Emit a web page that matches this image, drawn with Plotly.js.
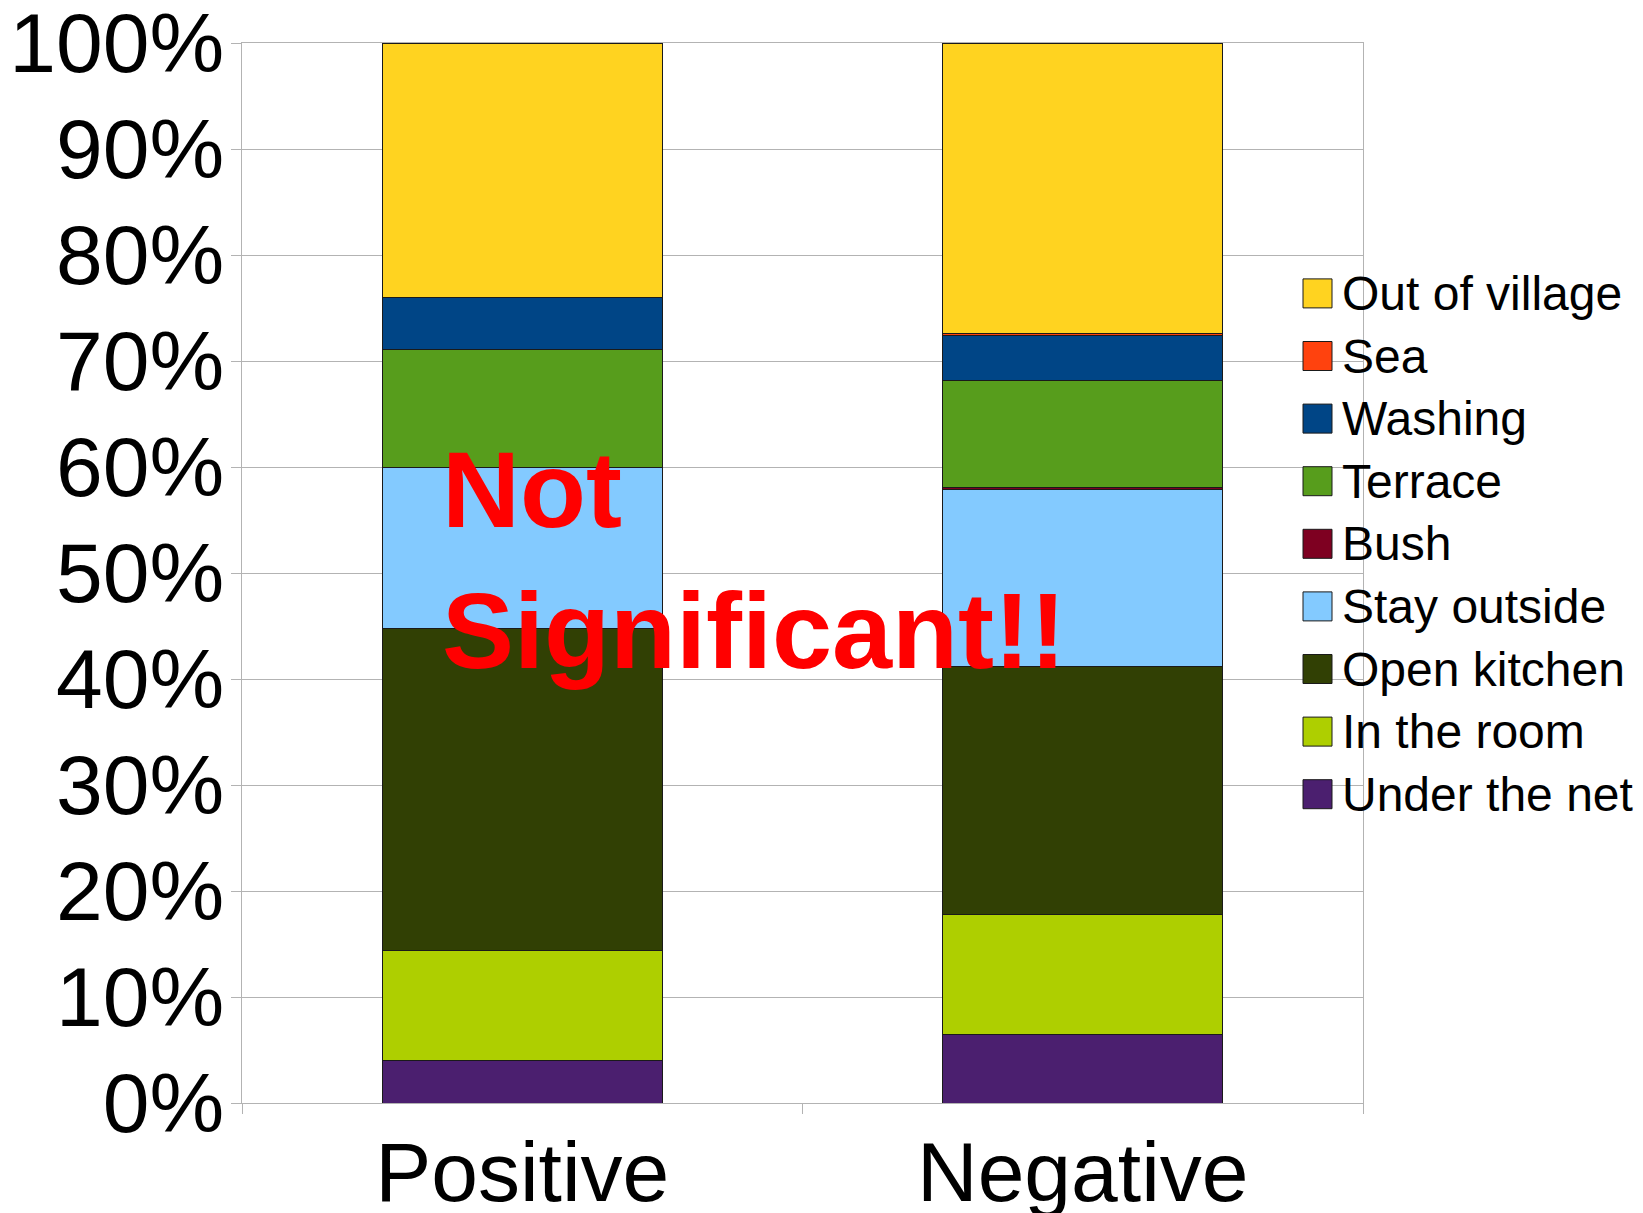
<!DOCTYPE html>
<html><head><meta charset="utf-8">
<script src="https://cdn.plot.ly/plotly-3.0.1.min.js"></script>
<style>html,body{margin:0;padding:0;background:#fff}</style>
</head><body>
<div id="chart" style="width:1643px;height:1213px"></div>
<script>
// ---- data (percent of each group) ----
const categories = ['Positive', 'Negative'];
const seriesNames = ['Under the net', 'In the room', 'Open kitchen', 'Stay outside', 'Bush', 'Terrace', 'Washing', 'Sea', 'Out of village'];
const underTheNet  = [4.0, 6.5];
const inTheRoom    = [10.4, 11.3];
const openKitchen  = [30.4, 23.4];
const stayOutside  = [15.2, 16.7];
const bush         = [0.0, 0.2];
const terrace      = [11.1, 10.1];
const washing      = [4.9, 4.2];
const sea          = [0.0, 0.2];
const outOfVillage = [24.0, 27.4];
const yTickValues  = [0, 10, 20, 30, 40, 50, 60, 70, 80, 90, 100];
const noteLines    = ['Not', 'Significant!!'];

const seriesValues = [underTheNet, inTheRoom, openKitchen, stayOutside, bush, terrace, washing, sea, outOfVillage];
const seriesColors = ['#4b1f6f', '#aecf00', '#314004', '#83caff', '#7e0021', '#579d1c', '#004586', '#ff420e', '#ffd320'];

const FONT = 'Liberation Sans, Arial, Helvetica, sans-serif';
const OUTLINE = '#1a1a1a';

const traces = seriesNames.map((name, i) => ({
  type: 'bar',
  name: name,
  x: categories,
  y: seriesValues[i],
  marker: { color: seriesColors[i], line: { color: OUTLINE, width: 1 } },
  showlegend: false,
  hoverinfo: 'name+y'
}));

// ---- custom legend (big square keys), top item = last series ----
const plotTop = 43, plotBottom = 1103;
const legendFirstCenter = 293.4, legendStep = 62.6;
const legendShapes = [];
const legendLabels = [];
seriesNames.slice().reverse().forEach((name, k) => {
  const idx = seriesNames.length - 1 - k;
  const yc = (plotBottom - (legendFirstCenter + k * legendStep)) / (plotBottom - plotTop);
  legendShapes.push({
    type: 'rect', xref: 'paper', yref: 'paper',
    xsizemode: 'pixel', xanchor: 1, x0: -60, x1: -31,
    ysizemode: 'pixel', yanchor: yc, y0: -14.5, y1: 14.5,
    fillcolor: seriesColors[idx], line: { color: OUTLINE, width: 1 }, layer: 'above'
  });
  legendLabels.push({
    text: name, xref: 'paper', yref: 'paper', x: 1, xshift: -23, y: yc,
    xanchor: 'left', yanchor: 'middle', showarrow: false,
    font: { family: FONT, size: 48, color: '#000' }
  });
});

const layout = {
  width: 1643, height: 1213,
  margin: { l: 242, r: 280, t: 43, b: 110, pad: 0 },
  paper_bgcolor: '#ffffff', plot_bgcolor: '#ffffff',
  barmode: 'stack', bargap: 0.5,
  font: { family: FONT, color: '#000000' },
  showlegend: false,
  xaxis: {
    type: 'category', tickson: 'boundaries', ticks: 'outside', ticklen: 10,
    tickcolor: '#b3b3b3', tickwidth: 1, showline: true, linecolor: '#b3b3b3',
    linewidth: 1, mirror: true, showgrid: false, zeroline: false,
    tickfont: { family: FONT, size: 84, color: '#000' }, fixedrange: true,
    ticklabelstandoff: -4
  },
  yaxis: {
    range: [0, 100], tickmode: 'array', tickvals: yTickValues,
    ticktext: yTickValues.map(v => v + '%'),
    ticks: 'outside', ticklen: 10, tickcolor: '#b3b3b3', tickwidth: 1,
    showline: true, linecolor: '#b3b3b3', linewidth: 1, mirror: true,
    showgrid: true, gridcolor: '#b3b3b3', gridwidth: 1, zeroline: false,
    tickfont: { family: FONT, size: 84, color: '#000' },
    ticklabelstandoff: -10, ticklabeloverflow: 'allow', fixedrange: true
  },
  shapes: legendShapes,
  annotations: [
    { text: '<b>' + noteLines[0] + '</b>', xref: 'paper', yref: 'paper', x: 0.1765, y: 0.579,
      xanchor: 'left', yanchor: 'middle', showarrow: false,
      font: { family: FONT, size: 108, color: '#ff0000' } },
    { text: '<b>' + noteLines[1] + '</b>', xref: 'paper', yref: 'paper', x: 0.1765, y: 0.4462,
      xanchor: 'left', yanchor: 'middle', showarrow: false,
      font: { family: FONT, size: 108, color: '#ff0000' } }
  ].concat(legendLabels)
};

Plotly.newPlot('chart', traces, layout, { displayModeBar: false, staticPlot: true });
</script>
</body></html>
